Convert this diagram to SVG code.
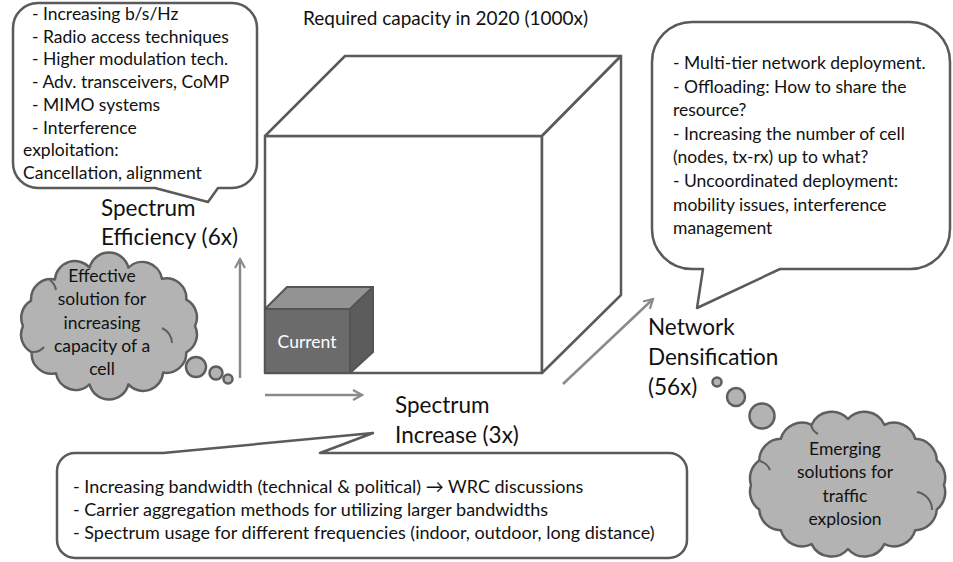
<svg xmlns="http://www.w3.org/2000/svg" width="953" height="562" viewBox="0 0 953 562">
<defs>
<style>
.t{font-family:Lato,"Open Sans",sans-serif;fill:#111;}
.s{font-size:17.5px;}
.m{font-size:18px;}
.b{font-size:22.5px;}
.c{text-anchor:middle;}
.box{fill:#fff;stroke:#5a5a5a;stroke-width:2.5;stroke-linejoin:round;}
.cube{fill:#fff;stroke:#5a5a5a;stroke-width:2.5;stroke-linejoin:round;}
.cloud{fill:#b3b3b3;stroke:#5e5e5e;stroke-width:2.5;stroke-linejoin:round;}
.fold{fill:none;stroke:#5e5e5e;stroke-width:2;}
.arr{fill:none;stroke:#8a8a8a;stroke-width:2.5;}
</style>
<marker id="ah" viewBox="0 0 12 12" refX="10" refY="6" markerWidth="12" markerHeight="12" markerUnits="userSpaceOnUse" orient="auto">
<path d="M1,1 L10,6 L1,11" fill="none" stroke="#8a8a8a" stroke-width="2.2"/>
</marker>
</defs>
<rect width="953" height="562" fill="#fff"/>

<g id="title">
<text class="t" x="303" y="25" style="font-size:19px">Required capacity in 2020 (1000x)</text>
</g>

<g id="capacity-cube">
<rect class="cube" x="265" y="136" width="277" height="237"/>
<polygon class="cube" points="265,136 345,56 621,56 542,136"/>
<polygon class="cube" points="542,136 621,56 621,295 542,373"/>
</g>

<g id="current-cube">
<rect x="265" y="309" width="85" height="64" fill="#6b6b6b" stroke="#555" stroke-width="2"/>
<polygon points="265,309 287,287 373,287 350,309" fill="#939393" stroke="#555" stroke-width="2" stroke-linejoin="round"/>
<polygon points="350,309 373,287 373,352 350,373" fill="#5c5c5c" stroke="#555" stroke-width="2" stroke-linejoin="round"/>
<text class="t s c" x="307" y="348" style="fill:#fff">Current</text>
</g>

<g id="connectors">
<line class="arr" x1="240" y1="378" x2="240" y2="259" marker-end="url(#ah)"/>
<line class="arr" x1="265" y1="395" x2="362" y2="395" marker-end="url(#ah)"/>
<line class="arr" x1="563" y1="384" x2="653" y2="299" marker-end="url(#ah)"/>
</g>

<g id="efficiency-callout">
<path class="box" d="M38,3 H232 A25,25 0 0 1 257,28 V163 A25,25 0 0 1 232,188 H218 L208,202 L155,188 H38 A25,25 0 0 1 13,163 V28 A25,25 0 0 1 38,3 Z"/>
<text class="t s" x="32" y="20">- Increasing b/s/Hz</text>
<text class="t s" x="32" y="42.7">- Radio access techniques</text>
<text class="t s" x="32" y="65.4">- Higher modulation  tech.</text>
<text class="t s" x="32" y="88">- Adv. transceivers, CoMP</text>
<text class="t s" x="32" y="110.8">- MIMO systems</text>
<text class="t s" x="32" y="133.5">- Interference</text>
<text class="t s" x="23" y="156.2">exploitation:</text>
<text class="t s" x="23" y="179">Cancellation,  alignment</text>
</g>

<g id="efficiency-label">
<text class="t b" x="101" y="216">Spectrum</text>
<text class="t b" x="101" y="245">Efficiency (6x)</text>
</g>

<g id="cell-cloud">
<path class="cloud" d="M23,326 A20,20 0 0 1 31.1,300.6 A20,20 0 0 1 54.9,279.4 A20,20 0 0 1 89.6,267.6 A20,20 0 0 1 128.4,267.6 A20,20 0 0 1 162,278.7 A20,20 0 0 1 186.3,299.7 A20,20 0 0 1 195,326 A20,20 0 0 1 186.3,352.3 A20,20 0 0 1 163.1,372.6 A20,20 0 0 1 128.4,384.4 A20,20 0 0 1 89.6,384.4 A20,20 0 0 1 56,373.3 A20,20 0 0 1 31.7,352.3 A20,20 0 0 1 23,326 Z"/>
<path class="fold" d="M50,280 A16,16 0 0 1 56,290"/>
<path class="fold" d="M162,328 A18,18 0 0 1 172,343"/>
<path class="fold" d="M32,352 A14,14 0 0 0 44,347"/>
<circle class="cloud" cx="196" cy="367" r="10"/>
<circle class="cloud" cx="216" cy="373" r="6.5"/>
<circle class="cloud" cx="228" cy="379" r="4.5"/>
<text class="t s c" x="102" y="282">Effective</text>
<text class="t s c" x="102" y="305">solution for</text>
<text class="t s c" x="102" y="328.5">increasing</text>
<text class="t s c" x="102" y="352">capacity of a</text>
<text class="t s c" x="102" y="375">cell</text>
</g>

<g id="spectrum-label">
<text class="t b" x="395" y="413">Spectrum</text>
<text class="t b" x="395" y="443">Increase (3x)</text>
</g>

<g id="spectrum-callout">
<path class="box" d="M75,453 H163 L373,433 L320,453 H669 A18,18 0 0 1 687,471 V540 A18,18 0 0 1 669,558 H75 A18,18 0 0 1 57,540 V471 A18,18 0 0 1 75,453 Z"/>
<text class="t m" x="73" y="493">- Increasing bandwidth (technical &amp; political) → WRC discussions</text>
<text class="t m" x="73" y="516">- Carrier aggregation methods for utilizing larger bandwidths</text>
<text class="t m" x="73" y="539">- Spectrum usage for different frequencies (indoor, outdoor, long distance)</text>
</g>

<g id="densification-callout">
<path class="box" d="M692,22 H910 A40,40 0 0 1 950,62 V229 A40,40 0 0 1 910,269 H780 L697,308 L703,269 H692 A40,40 0 0 1 652,229 V62 A40,40 0 0 1 692,22 Z"/>
<text class="t s" x="673" y="69">- Multi-tier network deployment.</text>
<text class="t s" x="673" y="92.6">- Offloading: How to share the</text>
<text class="t s" x="673" y="116.2">resource?</text>
<text class="t s" x="673" y="139.8">- Increasing the number of cell</text>
<text class="t s" x="673" y="163.4">(nodes, tx-rx) up to what?</text>
<text class="t s" x="673" y="187">- Uncoordinated deployment:</text>
<text class="t s" x="673" y="210.6">mobility issues, interference</text>
<text class="t s" x="673" y="234.2">management</text>
</g>

<g id="densification-label">
<text class="t b" x="648" y="335">Network</text>
<text class="t b" x="648" y="365">Densification</text>
<text class="t b" x="648" y="395">(56x)</text>
</g>

<g id="traffic-cloud">
<circle class="cloud" cx="717" cy="382" r="4.5"/>
<circle class="cloud" cx="736" cy="397" r="9"/>
<circle class="cloud" cx="762" cy="416" r="12.5"/>
<path class="cloud" d="M751,485 A22,22 0 0 1 759.2,460.5 A22,22 0 0 1 780.8,438.8 A22,22 0 0 1 811.6,424.9 A22,22 0 0 1 848,419 A22,22 0 0 1 884.4,424.9 A22,22 0 0 1 915.2,438.8 A22,22 0 0 1 936.8,460.5 A22,22 0 0 1 944,485 A22,22 0 0 1 936.8,509.5 A22,22 0 0 1 915.2,530.2 A22,22 0 0 1 884.4,544.1 A22,22 0 0 1 848,549 A22,22 0 0 1 811.6,544.1 A22,22 0 0 1 780.8,530.2 A22,22 0 0 1 759.2,509.5 A22,22 0 0 1 751,485 Z"/>
<path class="fold" d="M917,492 A18,18 0 0 1 932,510"/>
<path class="fold" d="M760,461 A16,16 0 0 1 770,470"/>
<path class="fold" d="M811,425 A14,14 0 0 0 818,434"/>
<text class="t s c" x="845" y="455">Emerging</text>
<text class="t s c" x="845" y="478">solutions for</text>
<text class="t s c" x="845" y="501.5">traffic</text>
<text class="t s c" x="845" y="525">explosion</text>
</g>
</svg>
